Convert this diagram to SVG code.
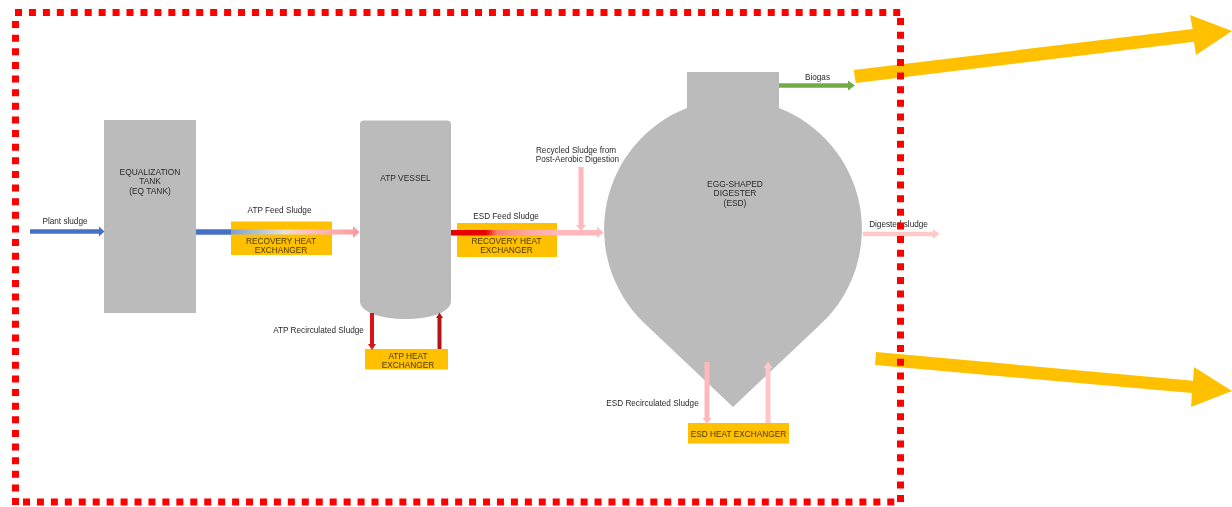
<svg xmlns="http://www.w3.org/2000/svg" width="1232" height="507" viewBox="0 0 1232 507">
<style>
text{font-family:"Liberation Sans",Arial,sans-serif;font-size:8.4px;fill:#2a2a2a;text-anchor:middle}
.vessel{fill:#bbbbbb}
.hx{fill:#ffc000}
.hx-t{fill:#4a3800;font-size:8.3px}
.big{fill:#ffc000}
.lbl{font-size:8.2px}
.dash{fill:none;stroke:#ff0000;stroke-width:7}
.dh{stroke-dasharray:7 6.940}
.dv{stroke-dasharray:7 6.630}
</style>
<defs>
<filter id="soft" x="-5%" y="-5%" width="110%" height="110%"><feGaussianBlur stdDeviation="0.35"/></filter>
<linearGradient id="g1" gradientUnits="userSpaceOnUse" x1="231" y1="0" x2="359" y2="0"><stop offset="0" stop-color="#7f9fd0"/><stop offset="0.3" stop-color="#c8d0dc"/><stop offset="0.42" stop-color="#e8e0d8"/><stop offset="0.6" stop-color="#fcc0c0"/><stop offset="1" stop-color="#ff9a9f"/></linearGradient>
<linearGradient id="g2" gradientUnits="userSpaceOnUse" x1="451" y1="0" x2="560" y2="0"><stop offset="0" stop-color="#e60000"/><stop offset="0.32" stop-color="#e60000"/><stop offset="0.42" stop-color="#f7806a"/><stop offset="0.7" stop-color="#ffa8a0"/><stop offset="1" stop-color="#ffb9bc"/></linearGradient>
</defs>
<g id="diagram" filter="url(#soft)">
<g id="eq-tank"><rect class="vessel" x="104" y="120" width="92" height="193"/><text x="150" y="175">EQUALIZATION</text><text x="150" y="184">TANK</text><text x="150" y="194">(EQ TANK)</text></g>
<g id="atp-vessel"><path class="vessel" d="M360 124Q360 120.500 364 120.500H447Q451 120.500 451 124V301C451 312 431 319 405.500 319C380 319 360 312 360 301Z"/><text x="405.500" y="181">ATP VESSEL</text></g>
<g id="esd"><path class="vessel" d="M687 72H779V108A130 130 0 0 1 822.400 322.500L733 407L643.600 322.500A130 130 0 0 1 687 108Z"/><text x="735" y="186.500">EGG-SHAPED</text><text x="735" y="195.500">DIGESTER</text><text x="735" y="205.500">(ESD)</text></g>
<g id="recovery-hx-1"><rect class="hx" x="231" y="221.500" width="101" height="33.500"/></g>
<g id="recovery-hx-2"><rect class="hx" x="457" y="223" width="100" height="34"/></g>
<g id="atp-hx"><rect class="hx" x="365" y="349" width="83" height="20.500"/><text class="hx-t" x="408" y="359">ATP HEAT</text><text class="hx-t" x="408" y="368">EXCHANGER</text></g>
<g id="esd-hx"><rect class="hx" x="688" y="423" width="101" height="20.500"/><text class="hx-t" x="738.500" y="437">ESD HEAT EXCHANGER</text></g>
<g id="connectors">
<path d="M30 231.500H100" stroke="#4472c4" stroke-width="4.500" fill="none"/><path d="M99 226.500L104.500 231.500L99 236.500Z" fill="#4472c4"/>
<path d="M196 232H231" stroke="#4472c4" stroke-width="5.500" fill="none"/>
<rect x="231" y="229.500" width="124" height="5" fill="url(#g1)"/><path d="M353 226L359.500 232L353 238Z" fill="#ff9a9f"/>
<rect x="451" y="230" width="147" height="5.500" fill="url(#g2)"/><path d="M597 227L603.500 232.500L597 238Z" fill="#ffb9bc"/>
<path d="M581 167V226" stroke="#ffb9bc" stroke-width="5" fill="none"/><path d="M576 225L581 231L586 225Z" fill="#ffb9bc"/>
<path d="M863 234H934" stroke="#ffc9c9" stroke-width="4.500" fill="none"/><path d="M933 229L939.500 234L933 239Z" fill="#ffc9c9"/>
<path d="M779 85.500H849" stroke="#70ad47" stroke-width="4.500" fill="none"/><path d="M848 80.500L855 85.500L848 90.500Z" fill="#70ad47"/>
<path d="M372 313V345" stroke="#d81414" stroke-width="4" fill="none"/><path d="M368 344L372 350L376 344Z" fill="#d81414"/>
<path d="M439.500 349V317" stroke="#b01818" stroke-width="4" fill="none"/><path d="M436 318L439.500 312.500L443 318Z" fill="#b01818"/>
<path d="M707 362V419" stroke="#ffb9bc" stroke-width="5" fill="none"/><path d="M702.500 418L707 424L711.500 418Z" fill="#ffb9bc"/>
<path d="M768 423V367" stroke="#ffc5c8" stroke-width="5" fill="none"/><path d="M763.500 368L768 361.500L772.500 368Z" fill="#ffc5c8"/>
</g>
<g id="labels">
<text class="hx-t" x="281" y="243.500">RECOVERY HEAT</text><text class="hx-t" x="281" y="252.500">EXCHANGER</text>
<text class="hx-t" x="506.500" y="243.500">RECOVERY HEAT</text><text class="hx-t" x="506.500" y="252.500">EXCHANGER</text>
<text class="lbl" x="65" y="224">Plant sludge</text>
<text class="lbl" x="279.500" y="213">ATP Feed Sludge</text>
<text class="lbl" x="318.500" y="333">ATP Recirculated Sludge</text>
<text class="lbl" x="506" y="219">ESD Feed Sludge</text>
<text class="lbl" x="576" y="152.500">Recycled Sludge from</text>
<text class="lbl" x="577.500" y="162">Post-Aerobic Digestion</text>
<text class="lbl" x="817.500" y="80">Biogas</text>
<text class="lbl" x="898.500" y="227">Digested sludge</text>
<text class="lbl" x="652.500" y="405.500">ESD Recirculated Sludge</text>
</g>
</g>
<g id="callouts">
<path class="big" d="M853.700 70L1192.700 29L1190 15L1232 31L1196 55L1194 41.700L855.700 83Z"/>
<path class="big" d="M876 352L1193 380.700L1194 367L1232 391L1191 407L1192 393L875 365Z"/>
<g id="frame">
<path class="dash dh" d="M15 12.500H900.200"/>
<path class="dash dv" d="M900.500 18V502"/>
<path class="dash dh" d="M23 502H894.300"/>
<path class="dash dv" d="M15.500 21V505"/>
</g>
</g>
</svg>
